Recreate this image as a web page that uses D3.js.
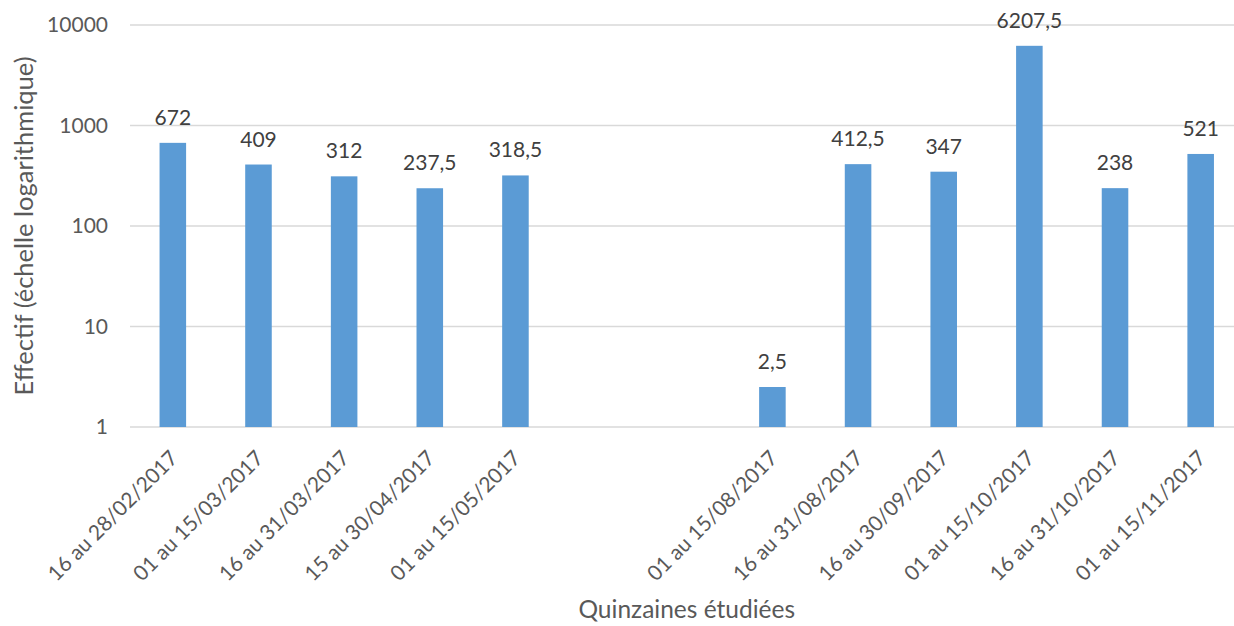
<!DOCTYPE html>
<html>
<head>
<meta charset="utf-8">
<script src="https://cdn.jsdelivr.net/npm/d3@7"></script>
<style>
  body { margin: 0; background: #fff; }
  svg { display: block; font-family: Lato, "Open Sans", sans-serif; }
</style>
</head>
<body>
<svg id="chart" width="1234" height="626"></svg>
<script>
// quinzaines (two empty slots for the summer gap)
const categories = [
  "16 au 28/02/2017", "01 au 15/03/2017", "16 au 31/03/2017", "15 au 30/04/2017",
  "01 au 15/05/2017", "", "", "01 au 15/08/2017", "16 au 31/08/2017",
  "16 au 30/09/2017", "01 au 15/10/2017", "16 au 31/10/2017", "01 au 15/11/2017"
]
const values = [672, 409, 312, 237.5, 318.5, null, null, 2.5, 412.5, 347, 6207.5, 238, 521]
const yTicks = [1, 10, 100, 1000, 10000]

const svg = d3.select("#chart")
const plotLeft = 130, plotRight = 1243.5, plotTop = 25, plotBottom = 427

let x = d3.scaleBand()
  .domain(d3.range(categories.length))
  .range([plotLeft, plotRight])
  .paddingInner(0.69)
  .paddingOuter(0.345)

let y = d3.scaleLog()
  .domain([1, 10000])
  .range([plotBottom, plotTop])

// gridlines
svg.append("g")
  .selectAll("line")
  .data(yTicks)
  .enter().append("line")
  .attr("x1", plotLeft)
  .attr("x2", plotRight)
  .attr("y1", d => y(d))
  .attr("y2", d => y(d))
  .attr("stroke", "#d9d9d9")
  .attr("stroke-width", 1.5)

// y tick labels
svg.append("g")
  .selectAll("text")
  .data(yTicks)
  .enter().append("text")
  .attr("x", plotLeft - 22)
  .attr("y", d => y(d))
  .attr("dy", "0.35em")
  .attr("text-anchor", "end")
  .attr("fill", "#595959")
  .style("font-size", "21px")
  .text(d => d)

const data = values.map((v, i) => ({ i: i, v: v })).filter(d => d.v != null)

// bars
svg.append("g")
  .selectAll("rect")
  .data(data)
  .enter().append("rect")
  .attr("x", d => x(d.i))
  .attr("width", x.bandwidth())
  .attr("y", d => y(d.v))
  .attr("height", d => plotBottom - y(d.v))
  .attr("fill", "#5b9bd5")

// value labels
const fmt = v => String(v).replace(".", ",")
svg.append("g")
  .selectAll("text")
  .data(data)
  .enter().append("text")
  .attr("x", d => x(d.i) + x.bandwidth() / 2)
  .attr("y", d => y(d.v) - 18)
  .attr("text-anchor", "middle")
  .attr("fill", "#404040")
  .style("font-size", "21px")
  .text(d => fmt(d.v))

// x tick labels, rotated
svg.append("g")
  .selectAll("text")
  .data(categories.map((c, i) => ({ i: i, c: c })).filter(d => d.c !== ""))
  .enter().append("text")
  .attr("transform", d => "translate(" + (x(d.i) + x.bandwidth() / 2 - 4) + "," + (plotBottom + 22) + ") rotate(-45)")
  .attr("text-anchor", "end")
  .attr("dy", "0.7em")
  .attr("fill", "#595959")
  .style("font-size", "21px")
  .text(d => d.c)

// axis titles
svg.append("text")
  .attr("transform", "translate(33," + ((plotTop + plotBottom) / 2) + ") rotate(-90)")
  .attr("text-anchor", "middle")
  .attr("fill", "#595959")
  .style("font-size", "25.5px")
  .text("Effectif (échelle logarithmique)")

svg.append("text")
  .attr("x", (plotLeft + plotRight) / 2)
  .attr("y", 618)
  .attr("text-anchor", "middle")
  .attr("fill", "#595959")
  .style("font-size", "24.5px")
  .text("Quinzaines étudiées")
</script>
</body>
</html>
